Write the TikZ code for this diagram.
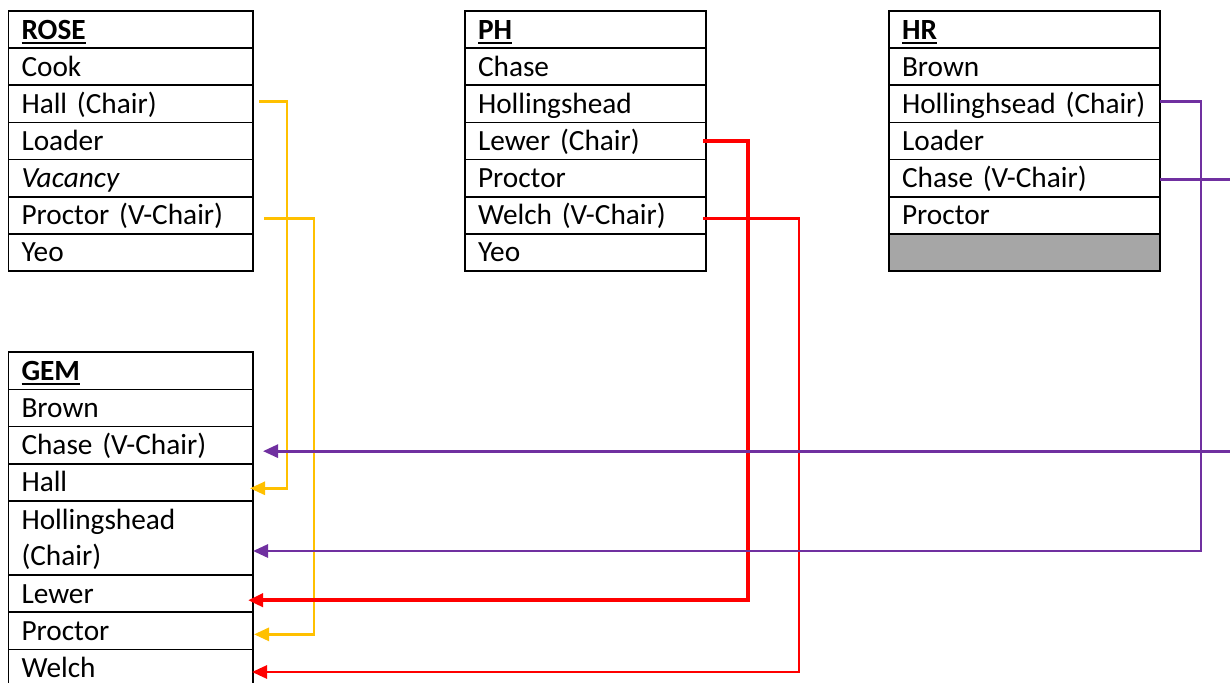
\documentclass[tikz,border=0pt]{standalone}
\usepackage{fontspec}
\setmainfont{Carlito}
\usetikzlibrary{positioning,calc,arrows.meta}

\definecolor{cYellow}{RGB}{255,192,0}
\definecolor{cPurple}{RGB}{112,48,160}
\definecolor{cRed}{RGB}{255,0,0}
\definecolor{cGrey}{RGB}{166,166,166}

% bold, underlined table title
\newcommand{\tabhead}[1]{\setbox0\hbox{\textbf{#1}}\rlap{\rule[-4.5pt]{\wd0}{2pt}}\box0}

\tikzset{
  cell/.style={draw, line width=1.8pt, outer sep=0pt, inner xsep=13pt, inner ysep=0pt,
    text width=#1, align=left, minimum height=37.14pt, text height=24.9pt, text depth=6pt,
    font=\fontsize{29.3}{35.8}\selectfont},
  cell/.default=218.5pt,
  link/.style={line width=2.8pt, -{Triangle[length=15pt,width=13pt]}},
}

\begin{document}
\begin{tikzpicture}[x=1pt,y=1pt,yscale=-1]
\useasboundingbox (0,0) rectangle (1230,682);

% ROSE table
\node[cell, anchor=north west] (rose-head) at (8.5,11) {\tabhead{ROSE}};
\node[cell, below=0pt of rose-head] (rose-cook) {Cook};
\node[cell, below=0pt of rose-cook] (rose-hall) {Hall (Chair)};
\node[cell, below=0pt of rose-hall] (rose-loader) {Loader};
\node[cell, below=0pt of rose-loader] (rose-vacancy) {\textit{Vacancy}};
\node[cell, below=0pt of rose-vacancy] (rose-proctor) {Proctor (V-Chair)};
\node[cell, below=0pt of rose-proctor] (rose-yeo) {Yeo};

% PH table
\node[cell=215pt, anchor=north west] (ph-head) at (465,11) {\tabhead{PH}};
\node[cell=215pt, below=0pt of ph-head] (ph-chase) {Chase};
\node[cell=215pt, below=0pt of ph-chase] (ph-holl) {Hollingshead};
\node[cell=215pt, below=0pt of ph-holl] (ph-lewer) {Lewer (Chair)};
\node[cell=215pt, below=0pt of ph-lewer] (ph-proctor) {Proctor};
\node[cell=215pt, below=0pt of ph-proctor] (ph-welch) {Welch (V-Chair)};
\node[cell=215pt, below=0pt of ph-welch] (ph-yeo) {Yeo};

% HR table
\node[cell=245pt, anchor=north west] (hr-head) at (889,11) {\tabhead{HR}};
\node[cell=245pt, below=0pt of hr-head] (hr-brown) {Brown};
\node[cell=245pt, below=0pt of hr-brown] (hr-holl) {Hollinghsead (Chair)};
\node[cell=245pt, below=0pt of hr-holl] (hr-loader) {Loader};
\node[cell=245pt, below=0pt of hr-loader] (hr-chase) {Chase (V-Chair)};
\node[cell=245pt, below=0pt of hr-chase] (hr-proctor) {Proctor};
\node[cell=245pt, fill=cGrey, below=0pt of hr-proctor] (hr-blank) {};

% GEM table
\node[cell, anchor=north west] (gem-head) at (8.5,352.3) {\tabhead{GEM}};
\node[cell, below=0pt of gem-head] (gem-brown) {Brown};
\node[cell, below=0pt of gem-brown] (gem-chase) {Chase (V-Chair)};
\node[cell, below=0pt of gem-chase] (gem-hall) {Hall};
\node[cell, below=0pt of gem-hall, minimum height=74.28pt, text height={}, text depth={}] (gem-holl)
  {\rule{0pt}{24.9pt}Hollingshead\\(Chair)\rule[-6pt]{0pt}{6pt}};
\node[cell, below=0pt of gem-holl] (gem-lewer) {Lewer};
\node[cell, below=0pt of gem-lewer] (gem-proctor) {Proctor};
\node[cell, below=0pt of gem-proctor] (gem-welch) {Welch};

% chairs moving to GEM
\draw[link, cYellow] ($(rose-hall.east)+(6,-2)$) -- ++(28,0) |- ($(gem-hall.east)+(-3,6)$);
\draw[link, cYellow] ($(rose-proctor.east)+(11,3)$) -- ++(50,0) |- ($(gem-proctor.east)+(1,3.5)$);
\draw[link, cRed, line width=4pt] ($(ph-lewer.east)+(-3,0)$) -- ++(45,0) |- ($(gem-lewer.east)+(-5,6.5)$);
\draw[link, cRed] ($(ph-welch.east)+(-3,3)$) -- ++(96,0) |- ($(gem-welch.east)+(-1,4)$);
\draw[link, cPurple] ($(hr-holl.east)+(0,-2)$) -- ++(41,0) |- ($(gem-holl.east)+(0,13)$);
\draw[link, cPurple] ($(hr-chase.east)+(0,1)$) -- ++(90,0) |- ($(gem-chase.east)+(10,6)$);

\end{tikzpicture}
\end{document}
